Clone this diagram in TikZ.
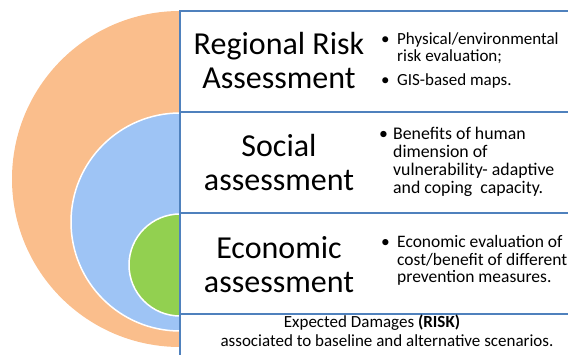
\documentclass[tikz,border=0pt]{standalone}
\usepackage{fontspec}
\setmainfont{Carlito}

\definecolor{riskorange}{RGB}{250,190,140}
\definecolor{socialblue}{RGB}{158,196,245}
\definecolor{econgreen}{RGB}{146,208,80}
\definecolor{frameblue}{RGB}{79,129,189}

\tikzset{
  heading/.style={align=center, inner sep=0pt, font=\fontsize{32}{34}\selectfont},
  bullets/.style={anchor=west, inner sep=0pt, font=\fontsize{#1}{#1}\selectfont},
  note/.style={anchor=base, inner sep=0pt, font=\fontsize{17}{18}\selectfont},
  frame/.style={draw=frameblue, line width=1.5pt},
}

\begin{document}
\begin{tikzpicture}[x=1pt,y=-1pt]
  \useasboundingbox (0,0) rectangle (568,355);

  % Half discs
  \begin{scope}
    \clip (0,0) rectangle (180,355);
    \fill[riskorange] (180,179) circle (168);
    \filldraw[fill=socialblue,draw=white,line width=1.5pt] (180,222) circle (109);
    \filldraw[fill=econgreen,draw=white,line width=1.5pt] (180,265) circle (51);
  \end{scope}

  % Frame
  \draw[frame] (568,11) -- (180,11) -- (180,355);
  \draw[frame] (180,112) -- (568,112);
  \draw[frame] (180,213) -- (568,213);
  \draw[frame] (180,314) -- (568,314);

  % Headings
  \node[heading] (regional) at (279,61) {Regional Risk\\Assessment};
  \node[heading] (social) at (279,163) {Social\\assessment};
  \node[heading] (economic) at (279,265) {Economic\\assessment};

  % Bullet lists
  \node[bullets=17] (regional-list) at (381,62) {\begin{tabular}{@{}p{16pt}@{}l@{}}
    • & Physical/environmental\\
      & risk evaluation;\\[7pt]
    • & GIS-based maps.
  \end{tabular}};
  \node[bullets=17.8] (social-list) at (379,163) {\begin{tabular}{@{}p{14pt}@{}l@{}}
    • & Benefits of human\\
      & dimension of\\
      & vulnerability- adaptive\\
      & and coping~ capacity.
  \end{tabular}};
  \node[bullets=17.5] (economic-list) at (381,262) {\begin{tabular}{@{}p{16pt}@{}l@{}}
    • & Economic evaluation of\\
      & cost/benefit of different\\
      & prevention measures.
  \end{tabular}};

  % Bottom row
  \node[note] (damages) at (372,328) {Expected Damages \textbf{(RISK)}};
  \node[note] (scenarios) at (387,347) {associated to baseline and alternative scenarios.};
\end{tikzpicture}
\end{document}
